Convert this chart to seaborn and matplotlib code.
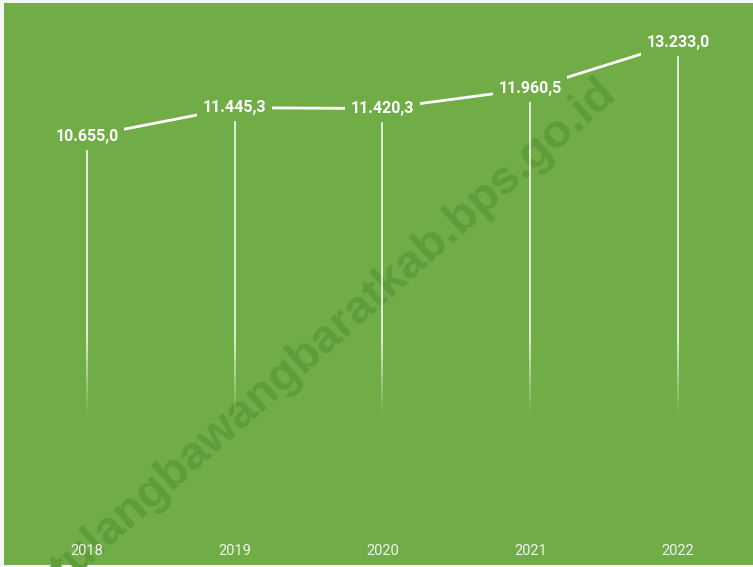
import numpy as np
import pandas as pd
import matplotlib.pyplot as plt
import seaborn as sns

# data
years = ['2018', '2019', '2020', '2021', '2022']
values = [10655.0, 11445.3, 11420.3, 11960.5, 13233.0]
labels = ['10.655,0', '11.445,3', '11.420,3', '11.960,5', '13.233,0']

green = '#70AD47'
data = pd.DataFrame({'pos': np.arange(len(years)), 'value': values})

sns.set_style('white')
plt.rcParams['font.family'] = ['Roboto', 'DejaVu Sans']

fig = plt.figure(figsize=(7.53, 5.67), dpi=100)
fig.patch.set_facecolor('#f4f6f2')
# axes covers the green area of the picture
ax = fig.add_axes([4 / 753, 2 / 567, 749 / 753, 562 / 567])
ax.set_facecolor(green)

# watermark behind everything
ax.text(0.44, 0.415, 'tulangbawangbaratkab.bps.go.id', transform=ax.transAxes,
        rotation=41.5, rotation_mode='anchor', ha='center', va='center',
        fontsize=34, fontweight='bold', family='Liberation Sans',
        color='#5f9c3b', zorder=1)

# drop lines fading towards the bottom
for i, v in enumerate(values):
    ys = np.linspace(0, v, 120)
    for a, b in zip(ys[:-1], ys[1:]):
        alpha = np.clip((b - 3000) / 2200, 0, 1)
        if alpha > 0:
            ax.plot([i, i], [a, b], color='white', lw=1.1, alpha=alpha,
                    solid_capstyle='butt', zorder=2)

sns.lineplot(data=data, x='pos', y='value', ax=ax, color='white', lw=2,
             zorder=3)

for i, v in enumerate(values):
    ax.text(i, v, labels[i], ha='center', va='center', color='white',
            fontsize=11.5, fontweight='bold', zorder=4,
            bbox=dict(boxstyle='square,pad=0.35', fc=green, ec='none'))

for i, y in enumerate(years):
    ax.text(i, -728, y, ha='center', va='center', color='#f2f2f2',
            fontsize=10.5, zorder=4)

ax.set_xlim(-0.561, 4.507)
ax.set_ylim(-1112, 14319)
ax.set_xlabel('')
ax.set_ylabel('')
ax.set_xticks([])
ax.set_yticks([])
for s in ax.spines.values():
    s.set_visible(False)

fig.savefig('out.png', dpi=100, facecolor=fig.get_facecolor())
